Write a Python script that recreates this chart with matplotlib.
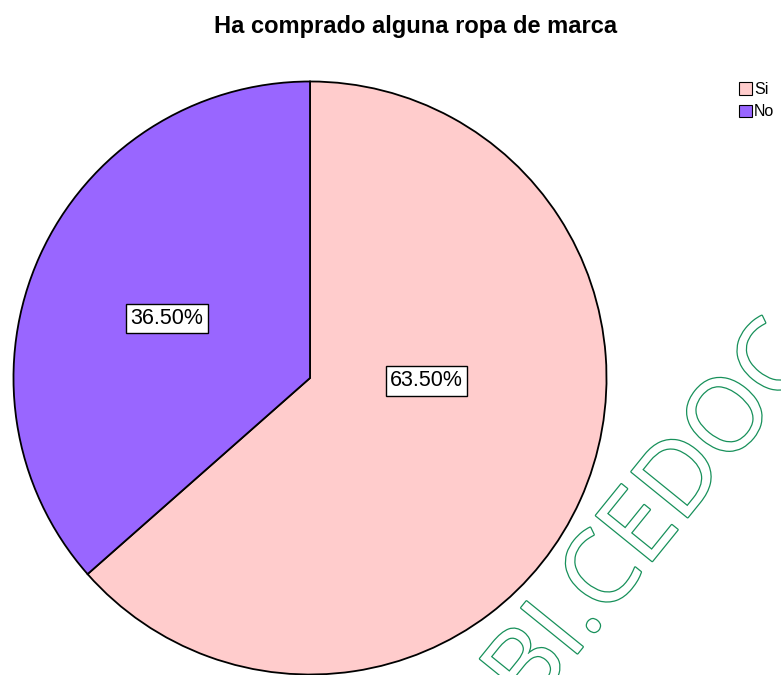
import matplotlib.pyplot as plt
import matplotlib.patheffects as pe
from matplotlib.patches import Patch

labels = ['Si', 'No']
values = [63.5, 36.5]
colors = ['#FFCCCC', '#9966FF']
title = 'Ha comprado alguna ropa de marca'

W, H = 781, 675
fig = plt.figure(figsize=(W / 100, H / 100), dpi=100)

# pie centre and radius in pixels
cx, cy, r = 310, 378, 298
ax = fig.add_axes([(cx - r) / W, (H - cy - r) / H, 2 * r / W, 2 * r / H])
wedges, _ = ax.pie(values, colors=colors, startangle=90, counterclock=False,
                   wedgeprops=dict(edgecolor='black', linewidth=1.3), radius=1)
ax.set_xlim(-1.005, 1.005)
ax.set_ylim(-1.005, 1.005)
ax.set_aspect('equal')
ax.axis('off')

# percentage labels
label_pos = [(0.393, -0.01), (-0.483, 0.201)]
for v, (x, y) in zip(values, label_pos):
    ax.text(x, y, f'{v:.2f}%', ha='center', va='center', fontsize=15.5,
            family='Liberation Sans',
            bbox=dict(boxstyle='square,pad=0.2', fc='white', ec='black', lw=1))

fig.text(416 / W, 1 - 26 / H, title, ha='center', va='center', fontsize=17,
         fontweight='bold', family='Liberation Sans')

handles = [Patch(facecolor=c, edgecolor='black', lw=0.8) for c in colors]
fig.legend(handles, labels, loc='upper left', bbox_to_anchor=(739 / W, 1 - 82 / H),
           frameon=False, handlelength=0.8, handleheight=0.8, handletextpad=0.15,
           labelspacing=0.45, prop=dict(family='Liberation Sans', size=11.5),
           borderpad=0, borderaxespad=0)

# watermark
fig.text(530 / W, 1 - 712 / H, 'BI.CEDOC', rotation=51, rotation_mode='anchor',
         ha='left', va='baseline', fontsize=73, family='Open Sans', color='white',
         path_effects=[pe.Stroke(linewidth=1.8, foreground='#17905a'), pe.Normal()])

fig.savefig('out.png', dpi=100)
